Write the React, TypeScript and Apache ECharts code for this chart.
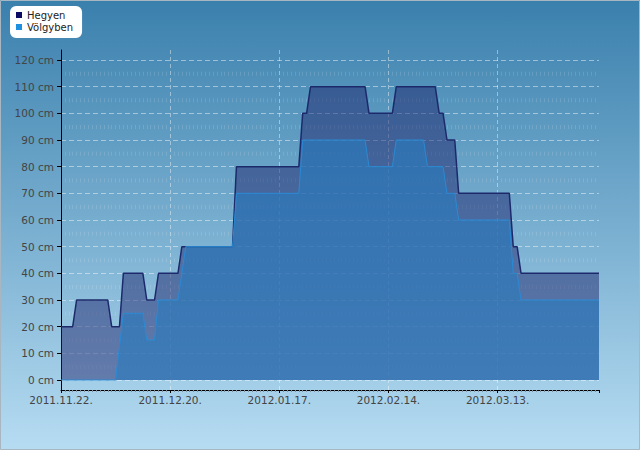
import React, { useEffect, useRef } from 'react';
import * as echarts from 'echarts';

// ---- data ----
const baseDate = '2011-11-22';
const endDate = '2012-04-08';
const xTickStepDays = 28;
const xTickLabels = ['2011.11.22.', '2011.12.20.', '2012.01.17.', '2012.02.14.', '2012.03.13.'];
const yTickValues = [0, 10, 20, 30, 40, 50, 60, 70, 80, 90, 100, 110, 120];

const hegyenDates = [
  '2011-11-22', '2011-11-25', '2011-11-26', '2011-12-04', '2011-12-05', '2011-12-07', '2011-12-08',
  '2011-12-13', '2011-12-14', '2011-12-16', '2011-12-17', '2011-12-22', '2011-12-23', '2012-01-05',
  '2012-01-06', '2012-01-22', '2012-01-23', '2012-01-24', '2012-01-25', '2012-02-08', '2012-02-09',
  '2012-02-15', '2012-02-16', '2012-02-26', '2012-02-27', '2012-02-28', '2012-02-29', '2012-03-02',
  '2012-03-03', '2012-03-16', '2012-03-17', '2012-03-18', '2012-03-19', '2012-04-08',
];
const hegyenValues = [
  20, 20, 30, 30, 20, 20, 40,
  40, 30, 30, 40, 40, 50, 50,
  80, 80, 100, 100, 110, 110, 100,
  100, 110, 110, 100, 100, 90, 90,
  70, 70, 50, 50, 40, 40,
];

const volgybenDates = [
  '2011-11-22', '2011-12-06', '2011-12-08', '2011-12-13', '2011-12-14', '2011-12-16', '2011-12-17',
  '2011-12-22', '2011-12-24', '2012-01-05', '2012-01-06', '2012-01-22', '2012-01-23', '2012-02-08',
  '2012-02-09', '2012-02-15', '2012-02-16', '2012-02-23', '2012-02-24', '2012-02-28', '2012-02-29',
  '2012-03-02', '2012-03-03', '2012-03-16', '2012-03-17', '2012-03-18', '2012-03-19', '2012-04-08',
];
const volgybenValues = [
  0, 0, 25, 25, 15, 15, 30,
  30, 50, 50, 70, 70, 90, 90,
  80, 80, 90, 90, 80, 80, 70,
  70, 60, 60, 40, 40, 30, 30,
];

const DAY_MS = 86400000;
const dayOffset = (s: string) => (Date.parse(s) - Date.parse(baseDate)) / DAY_MS;

export default function App() {
  const ref = useRef<HTMLDivElement>(null);

  useEffect(() => {
    if (!ref.current) return;
    const chart = echarts.init(ref.current, null, { renderer: 'svg' });
    const font = 'DejaVu Sans';
    const hegyenData = hegyenDates.map((d, i) => [dayOffset(d), hegyenValues[i]]);
    const volgybenData = volgybenDates.map((d, i) => [dayOffset(d), volgybenValues[i]]);
    const xMax = dayOffset(endDate);

    chart.setOption({
      animation: false,
      backgroundColor: new echarts.graphic.LinearGradient(0, 0, 0, 1, [
        { offset: 0, color: '#3a80ad' },
        { offset: 1, color: '#b6dcf2' },
      ]),
      textStyle: { fontFamily: font },
      graphic: [
        {
          type: 'rect',
          silent: true,
          shape: { x: 0.5, y: 0.5, width: 639, height: 449 },
          style: { fill: 'none', stroke: '#a7b6c0', lineWidth: 1 },
        },
      ],
      legend: {
        orient: 'vertical',
        left: 10,
        top: 6,
        backgroundColor: '#ffffff',
        borderRadius: 6,
        padding: [4, 9, 6, 6],
        itemWidth: 6,
        itemHeight: 6,
        itemGap: 2,
        icon: 'rect',
        textStyle: { fontSize: 10, color: '#222', fontFamily: font },
        data: [
          { name: 'Hegyen', itemStyle: { color: '#0b0b66' } },
          { name: 'Völgyben', itemStyle: { color: '#1e90e0' } },
        ],
      },
      grid: { left: 61, right: 41, top: 50, bottom: 60 },
      xAxis: {
        type: 'value',
        min: 0,
        max: xMax,
        interval: xTickStepDays,
        axisLine: { onZero: false, lineStyle: { color: '#000', width: 1 } },
        axisTick: { show: true, length: 3, lineStyle: { color: '#000' } },
        minorTick: { show: true, splitNumber: xTickStepDays, length: 2, lineStyle: { color: '#7d8d99' } },
        axisLabel: {
          color: '#444',
          fontSize: 10.5,
          fontFamily: font,
          margin: 4,
          showMaxLabel: false,
          formatter: (v: number) => (v % xTickStepDays === 0 ? xTickLabels[v / xTickStepDays] ?? '' : ''),
        },
        splitLine: {
          show: true,
          showMaxLine: false,
          lineStyle: { color: 'rgba(255,255,255,0.42)', type: [4, 3] },
        },
        minorSplitLine: {
          show: true,
          lineStyle: { color: 'rgba(255,255,255,0.13)', type: [4, 22.667], dashOffset: 5.33 },
        },
      },
      yAxis: {
        type: 'value',
        min: -3.75,
        max: 123.75,
        interval: 10,
        axisLine: { show: true, onZero: false, lineStyle: { color: '#000', width: 1 } },
        axisTick: { show: true, length: 4, lineStyle: { color: '#000' }, customValues: yTickValues },
        axisLabel: {
          color: '#444',
          fontSize: 10.5,
          fontFamily: font,
          margin: 7,
          customValues: yTickValues,
          showMinLabel: true,
          showMaxLabel: true,
          formatter: (v: number) => `${v} cm`,
        },
        splitLine: {
          show: true,
          lineStyle: { color: 'rgba(255,255,255,0.45)', type: [5, 3] },
        },
      },
      series: [
        {
          type: 'line',
          name: 'Hegyen',
          data: hegyenData,
          symbol: 'none',
          showSymbol: false,
          itemStyle: { color: '#0b0b66' },
          lineStyle: { color: '#1c2a6c', width: 1.5 },
          areaStyle: { color: 'rgba(28,32,105,0.68)' },
          z: 2,
        },
        {
          type: 'line',
          name: 'Völgyben',
          data: volgybenData,
          symbol: 'none',
          showSymbol: false,
          itemStyle: { color: '#1e90e0' },
          lineStyle: { color: '#2a8ad4', width: 1 },
          areaStyle: { color: 'rgba(40,124,190,0.88)' },
          z: 3,
        },
      ],
    });

    return () => chart.dispose();
  }, []);

  return <div ref={ref} style={{ position: 'fixed', left: 0, top: 0, width: 640, height: 450 }} />;
}
